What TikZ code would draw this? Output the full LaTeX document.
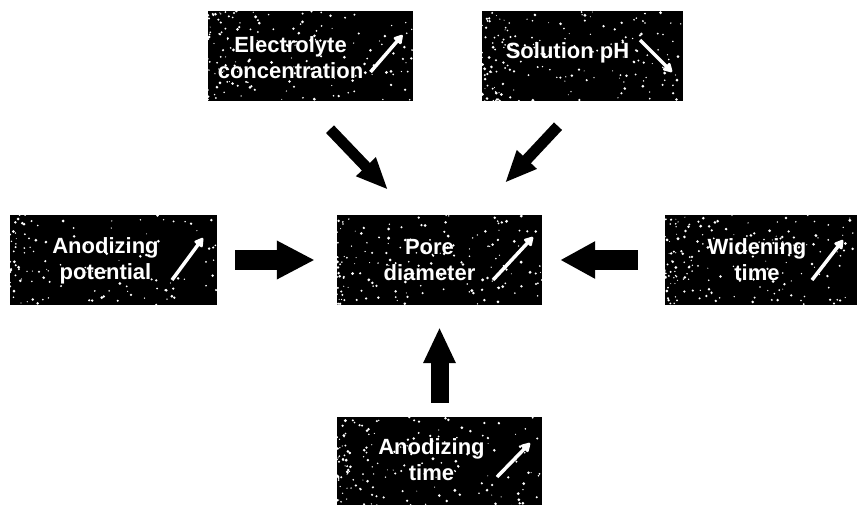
\documentclass[tikz,border=0pt]{standalone}
\usepackage{fontspec}
\setmainfont{Liberation Sans}
\usetikzlibrary{calc,arrows.meta}
\tikzset{
  box/.style={rectangle, fill=black, minimum width=205pt, minimum height=90pt, inner sep=0pt},
  lbl/.style={text=white, font=\bfseries\fontsize{22}{26}\selectfont, align=center, inner sep=0pt},
  upmark/.style={white, line width=3.5pt, -{Triangle[length=10pt,width=11pt,round]}},
  blk/.style={black, line width=20pt, -{Triangle[length=38pt,width=36pt]}},
  diag/.style={black, line width=11pt, -{Triangle[length=32pt,width=25pt]}},
}
% white grain scattered over a dark box, thicker towards its left edge
\newcommand\grain[2]{%
  \foreach \k in {1,...,#2}{%
    \pgfmathsetmacro\gx{rnd}%
    \pgfmathsetmacro\gy{rnd}%
    \pgfmathsetmacro\gr{0.5+1.1*rnd}%
    \fill[white] ($(#1.north west)!\gx!(#1.north east)+(0,\gy*90)$) circle (\gr pt);
  }%
  \foreach \k in {1,...,40}{%
    \pgfmathsetmacro\gx{0.22*rnd*rnd}%
    \pgfmathsetmacro\gy{rnd}%
    \pgfmathsetmacro\gr{0.5+1.0*rnd}%
    \fill[white] ($(#1.north west)!\gx!(#1.north east)+(0,\gy*90)$) circle (\gr pt);
  }}
\begin{document}
\begin{tikzpicture}[x=1pt,y=-1pt]
\useasboundingbox[fill=white] (0,0) rectangle (859,504);
\pgfmathsetseed{42}

% factor boxes
\node[box] (ec) at (310.5,56) {};
\node[box, minimum width=201pt] (sp) at (582.5,56) {};
\node[box, minimum width=207pt] (ap) at (113.5,260) {};
\node[box] (pd) at (439.5,260) {};
\node[box, minimum width=192pt] (wt) at (761,260) {};
\node[box] (at) at (439.5,462) {};

\grain{ec}{120}
\grain{sp}{140}
\grain{ap}{80}
\grain{pd}{120}
\grain{wt}{140}
\grain{at}{130}

% labels
\node[lbl] (ec-t) at ($(ec.center)+(-20,2)$) {Electrolyte\\concentration};
\node[lbl] (sp-t) at ($(sp.center)+(-15,-3)$) {Solution pH};
\node[lbl] (ap-t) at ($(ap.center)+(-8,1)$) {Anodizing\\potential};
\node[lbl] (pd-t) at ($(pd.center)+(-10,0)$) {Pore\\diameter};
\node[lbl] (wt-t) at ($(wt.center)+(-4,0)$) {Widening\\time};
\node[lbl] (at-t) at ($(at.center)+(-8,-2)$) {Anodizing\\time};

% increase / decrease marks
\draw[upmark] ($(ec.center)+(60,16)$) -- ($(ec.center)+(92,-21)$);
\draw[upmark] ($(sp.center)+(57.5,-16)$) -- ($(sp.center)+(89.5,16)$);
\draw[upmark] ($(ap.center)+(58.5,20)$) -- ($(ap.center)+(89.5,-22)$);
\draw[upmark] ($(pd.center)+(53.5,20)$) -- ($(pd.center)+(93.5,-23)$);
\draw[upmark] ($(wt.center)+(51,20)$) -- ($(wt.center)+(82,-20)$);
\draw[upmark] ($(at.center)+(57.5,15)$) -- ($(at.center)+(90.5,-19)$);

% block arrows into the pore diameter box
\draw[blk, shorten <=18pt, shorten >=22pt] (ap) -- (pd);
\draw[blk, -{Triangle[length=35pt,width=35pt]}, shorten <=27pt, shorten >=18pt] (wt) -- (pd);
\draw[blk, line width=18pt, -{Triangle[length=36pt,width=30pt]}, shorten <=14pt, shorten >=22pt] (at) -- (pd);

\coordinate (ec-o) at ($(ec.south)+(19.5,28)$);
\coordinate (pd-nw) at ($(pd.north)+(-51.5,-25)$);
\draw[diag] (ec-o) -- (pd-nw);
\coordinate (sp-o) at ($(sp.south)+(-24.5,25)$);
\coordinate (pd-ne) at ($(pd.north)+(65.5,-32)$);
\draw[diag] (sp-o) -- (pd-ne);
\end{tikzpicture}
\end{document}
